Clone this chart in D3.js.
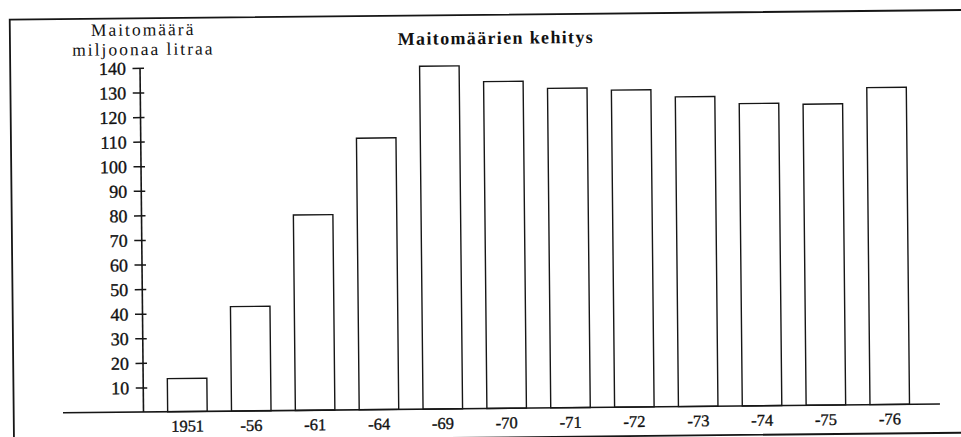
<!DOCTYPE html>
<html>
<head>
<meta charset="utf-8">
<script src="https://cdn.jsdelivr.net/npm/d3@7"></script>
<style>
  html, body { margin: 0; padding: 0; background: #fff; }
  svg { display: block; }
  .serif { font-family: "Liberation Serif", "Times New Roman", serif; fill: #111; }
  .num { stroke: #111; stroke-width: 0.35px; }
</style>
</head>
<body>
<svg id="chart" width="961" height="437"></svg>
<script>
// ---- data ----
const categories = ["1951", "-56", "-61", "-64", "-69", "-70", "-71", "-72", "-73", "-74", "-75", "-76"];
const values = [13.5, 42.5, 79.5, 110.5, 139.5, 133, 130, 129, 126, 123, 122.5, 129];
const yTicks = [10, 20, 30, 40, 50, 60, 70, 80, 90, 100, 110, 120, 130, 140];
const chartTitle = "Maitomäärien kehitys";
const yTitleLines = ["Maitomäärä", "miljoonaa litraa"];

// ---- layout ----
const svg = d3.select("#chart");
const ink = "#161616";
const axisX = 143.5, baseY = 412;

// slight scan skew of the original page
const g = svg.append("g").attr("transform", `rotate(-0.58, ${axisX}, ${baseY})`);

// frame
g.append("path")
  .attr("d", `M13.7,470 L13.7,18.3 L1000,18.3 M13.7,441 L1000,441`)
  .attr("fill", "none").attr("stroke", ink).attr("stroke-width", 1.8);

const x = d3.scaleBand().domain(categories)
  .range([155.5, 921.7]).paddingInner(0.381).paddingOuter(0.1905);
const y = d3.scaleLinear().domain([0, 140]).range([baseY, baseY - 140 * 2.458]);

// bars
g.append("g").selectAll("rect").data(values).join("rect")
  .attr("x", (d, i) => x(categories[i]))
  .attr("y", d => y(d))
  .attr("width", x.bandwidth())
  .attr("height", d => y(0) - y(d))
  .attr("fill", "#fff").attr("stroke", ink).attr("stroke-width", 1.4);

// x baseline
g.append("line").attr("x1", 63).attr("x2", 940).attr("y1", baseY).attr("y2", baseY)
  .attr("stroke", ink).attr("stroke-width", 1.6);

// y axis
const yAxis = d3.axisLeft(y).tickValues(yTicks).tickSizeInner(0).tickSizeOuter(0).tickPadding(0);
const ya = g.append("g").attr("transform", `translate(${axisX},0)`).call(yAxis);
ya.attr("font-family", null).attr("font-size", null);
ya.select(".domain").remove();
ya.append("line").attr("x1", 0).attr("x2", 0).attr("y1", y(140)).attr("y2", baseY)
  .attr("stroke", ink).attr("stroke-width", 1.6);
ya.selectAll(".tick line").remove();
ya.selectAll(".tick").append("line")
  .attr("x1", -7.5).attr("x2", 4).attr("stroke", ink).attr("stroke-width", 1.5);
ya.selectAll(".tick text")
  .attr("class", "serif num").attr("x", -14).attr("dy", "0.34em")
  .style("font-size", "18px").attr("fill", ink);

// x labels via axis
const xAxis = d3.axisBottom(x).tickSize(0).tickPadding(0);
const xa = g.append("g").attr("transform", `translate(0,${baseY})`).call(xAxis);
xa.attr("font-family", null).attr("font-size", null);
xa.select(".domain").remove();
xa.selectAll(".tick text").attr("class", "serif num").attr("y", 20).attr("dy", 0)
  .style("font-size", "16.5px").attr("fill", ink);

// titles
g.append("text").attr("class", "serif")
  .attr("x", 499).attr("y", 47.5).attr("text-anchor", "middle")
  .style("font-size", "18px").style("font-weight", "bold")
  .attr("textLength", 195).attr("lengthAdjust", "spacing")
  .text(chartTitle);

// two-line y-axis title
g.selectAll(".ytitle").data(yTitleLines).join("text")
  .attr("class", "serif ytitle")
  .attr("x", 147).attr("y", (d, i) => 35.5 + i * 19.6)
  .attr("text-anchor", "middle")
  .style("font-size", "17.5px").style("letter-spacing", "2px")
  .text(d => d);
</script>
</body>
</html>
